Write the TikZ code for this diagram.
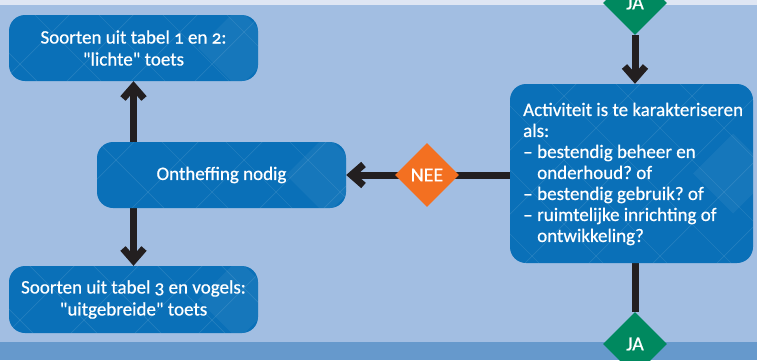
\documentclass[tikz,border=0pt]{standalone}
\usepackage{fontspec}
\setmainfont{Carlito}[Numbers=OldStyle,FakeBold=0.6]
\usetikzlibrary{shapes.geometric,arrows.meta}
\definecolor{bgtop}{HTML}{DFE6F3}
\definecolor{bgmain}{HTML}{A2BEE2}
\definecolor{bgbot}{HTML}{6699CC}
\definecolor{boxblue}{HTML}{0A70B8}
\definecolor{jagreen}{HTML}{00895F}
\definecolor{neeorange}{HTML}{F37021}
\definecolor{arrowcol}{HTML}{231F20}
\pgfdeclarelayer{back}
\pgfdeclarelayer{conn}
\pgfsetlayers{back,conn,main}
\newcommand\qt{\XeTeXglyph\XeTeXcharglyph"22\relax}
\tikzset{
  boxnode/.style={draw=none, fill=boxblue, rounded corners=16pt, text=white,
    inner sep=0pt, font=\fontsize{19}{22}\selectfont},
  decision/.style={diamond, aspect=1, inner sep=0pt, minimum width=64pt,
    minimum height=64pt, text=white, font=\fontsize{20}{22}\selectfont},
  yes/.style={decision, fill=jagreen},
  no/.style={decision, fill=neeorange},
  conline/.style={draw=arrowcol, line width=7pt},
  conarrow/.style={conline, -{Straight Barb[length=12pt,width=21pt]}},
  patline/.style={white, opacity=0.10, line width=0.7pt},
}
\newcommand\boxpattern[1]{%
  \begin{scope}
    \clip[rounded corners=16pt] (#1.north west) rectangle (#1.south east);
    \foreach \c in {-448,-384,...,1216} {
      \draw[patline] (\c+20,0) -- ++(400,400);
      \draw[patline] (\c+20,0) -- ++(-400,400);
    }
    \fill[white, opacity=0.05] ([xshift=-60pt]#1.east) -- ++(40,-40) -- ++(40,40) -- ++(-40,40) -- cycle;
  \end{scope}}
\begin{document}
\frenchspacing
\begin{tikzpicture}[x=1pt,y=-1pt]
\useasboundingbox (0,0) rectangle (757,360);
\begin{pgfonlayer}{back}
\fill[bgtop] (0,0) rectangle (757,5);
\fill[bgmain] (0,5) rectangle (757,342);
\fill[bgbot] (0,342) rectangle (757,360);
\end{pgfonlayer}

\node[boxnode, minimum width=249pt, minimum height=66pt, align=center] (tl) at (133.5,48)
  {Soorten uit tabel 1 en 2:\\ \qt lichte\qt\ toets};
\node[boxnode, minimum width=249pt, minimum height=66pt, align=center] (mid) at (221.5,175)
  {Ontheffing nodig};
\node[boxnode, minimum width=249pt, minimum height=67pt, align=center] (bl) at (133.5,299.5)
  {Soorten uit tabel 3 en vogels:\\ \qt uitgebreide\qt\ toets};
\node[boxnode, minimum width=243pt, minimum height=179pt] (act) at (631.5,173.5) {};
\boxpattern{tl}
\boxpattern{mid}
\boxpattern{bl}
\boxpattern{act}
\node[anchor=west, align=left, inner sep=0pt, text=white,
  font=\fontsize{19}{21}\selectfont] (acttext) at (523,174)
  {Activiteit is te karakteriseren\\
   als:\\
   \makebox[14pt][l]{–}bestendig beheer en\\
   \hspace*{14pt}onderhoud? of\\
   \makebox[14pt][l]{–}bestendig gebruik? of\\
   \makebox[14pt][l]{–}ruimtelijke inrichting of\\
   \hspace*{14pt}ontwikkeling?};

\node[yes] (jatop) at (635,3) {JA};
\node[no] (nee) at (427,175) {NEE};
\node[yes] (jabot) at (635,344) {JA};

\begin{pgfonlayer}{conn}
\draw[conarrow] (jatop.south) -- (jatop.south |- act.north);
\draw[conarrow] (act.west |- nee.east) -- (mid.east |- nee.west);
\draw[conarrow] (tl.south |- mid.north) -- (tl.south);
\draw[conarrow] (bl.north |- mid.south) -- (bl.north);
\draw[conline] (jabot.north |- act.south) -- (jabot.north);
\end{pgfonlayer}
\end{tikzpicture}
\end{document}
